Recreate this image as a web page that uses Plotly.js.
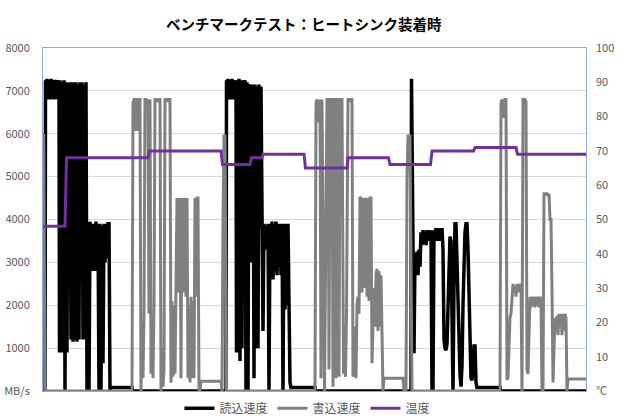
<!DOCTYPE html>
<html>
<head>
<meta charset="utf-8">
<script src="https://cdn.plot.ly/plotly-3.0.1.min.js"></script>
<style>html,body{margin:0;padding:0;background:#fff;}#chart{width:620px;height:420px;}</style>
</head>
<body>
<div id="chart"></div>
<script>
// Series names
const seriesNames = ['読込速度', '書込速度', '温度'];
const chartTitle = 'ベンチマークテスト：ヒートシンク装着時';

// Left axis ticks (MB/s)
const leftTickVals = [0, 1000, 2000, 3000, 4000, 5000, 6000, 7000, 8000];
const leftTickText = ['MB/s', '1000', '2000', '3000', '4000', '5000', '6000', '7000', '8000'];
// Right axis ticks (℃)
const rightTickVals = [0, 10, 20, 30, 40, 50, 60, 70, 80, 90, 100];
const rightTickText = ['℃', '10', '20', '30', '40', '50', '60', '70', '80', '90', '100'];

// Read speed samples [time, MB/s]
const readPts = [
  [0,0],[2,0],[2.5,7250],[3,6850],[4,7280],[5,6800],[6,7250],[7,6800],[8,7280],[9,6820],[10,7250],[11,6800],
  [12,7260],[13,6820],[14,7250],[15,6800],[16,7250],[16.5,900],[17,7250],[18,900],[19,7200],[20,900],[21,7250],
  [22,0],[23,7200],[24,900],[25,7200],[26,6600],[27,7200],[28,1200],[29,7200],[30,1150],[31,7200],[32,1200],
  [33,7200],[34,1150],[35,7150],[36,1200],[37,7200],[38,6600],[39,7200],[40,1200],[41,7150],[42,1200],[43,7200],
  [44,0],[45,3900],[46,0],[47,3950],[48,2900],[49,3900],[50,2800],[51,3900],[52,2800],[53,3950],[54,2850],
  [55,3900],[56,0],[57,3900],[58,0],[59,3850],[60,650],[61,3900],[62,3000],[63,3900],[64,3100],[65,3900],
  [66,3900],[67,0],[67.5,80],[89,80],[89.5,0],
  [183,0],[183.5,7250],[184,6850],[185,7280],[186,6800],[187,7250],[188,6800],[189,7280],[190,6800],[191,7250],
  [192,6850],[193,7250],[193.5,900],[194,7250],[195,1000],[196,7280],[197,700],[198,7250],[199,1000],[200,7250],
  [201,6800],[202,7250],[203,0],[204,7200],[205,0],[206,7150],[207,6900],[208,7150],[209,3000],[210,7150],
  [211,300],[212,7150],[213,1000],[214,7100],[215,1000],[216,7150],[217,3800],[218,7100],[219,3850],[220,1400],
  [221,3900],[222,3300],[223,3850],[224,3300],[225,3900],[226,0],[227,3900],[228,2800],[229,3950],[230,2600],
  [231,3900],[232,2800],[233,3950],[234,2700],[235,3900],[236,2900],[237,3900],[238,2700],[239,3900],[240,0],
  [241,3900],[242,1900],[243,3900],[244,2000],[245,3900],[246,1800],[247,200],[248,80],[272,80],[272.5,0],
  [368,0],[368.5,7280],[370,3200],[371,880],[372,3200],[373,2700],[374,3250],[375,2700],[376,3300],[377,2900],
  [378,3700],[379,3400],[380,3750],[381,3450],[382,3700],[383,3400],[384,3750],[385,3500],[386,3750],[387,3500],
  [388,3750],[389,0],[390,0],[391,3750],[392,3500],[393,3800],[394,3500],[395,3800],[396,3500],[397,3800],
  [398,3550],[399,3800],[400,3300],[401,1200],[402,1000],[403,950],[404,1100],[405,1800],[406,3000],[407,3600],
  [408,3500],[409,1500],[410,0],[411,2500],[412,3900],[413,3900],[414,3000],[415,2000],[416,1000],[417,400],
  [418,100],[419,600],[420,2000],[421,3300],[422,3700],[423,3900],[424,3900],[425,3300],[426,2200],[427,1000],
  [428,300],[429,250],[430,500],[431,1050],[432,1050],[433,200],[434,80],[457,80],[457.5,0],[543,0]
];

// Write speed samples [time, MB/s]
const writePts = [
  [0,4400],[0.7,6000],[2,0],
  [89,0],[90,6700],[91,6800],[92,6800],[93,6100],[94,6100],[95,6800],[96,6800],[97,6800],[98,0],[99,1600],
  [100,300],[101,1800],[102,6800],[103,6800],[104,6750],[105,6800],[106,1800],[107,6800],[108,400],[109,1500],
  [110,300],[111,2000],[112,6800],[113,6800],[114,6750],[115,6800],[116,6800],[117,6800],[118,0],[119,1000],
  [120,100],[121,500],[122,6800],[123,6800],[124,6750],[125,6800],[126,6800],[127,6800],[128,190],[129,2100],
  [130,330],[131,2000],[132,400],[133,2100],[134,4500],[135,4400],[136,2300],[137,4500],[138,300],[139,4500],
  [140,2300],[141,4500],[142,4400],[143,2200],[144,4500],[145,300],[146,2000],[147,200],[148,2200],[149,300],
  [150,2100],[151,300],[152,4500],[153,2200],[154,4500],[155,4500],[156,0],[157,0],[158,230],[178,230],[179,0],
  [180,4000],[181,5950],[182,5950],[183.5,0],
  [272,0],[273,6700],[274,6800],[275,6300],[276,6300],[277,6800],[278,300],[279,6800],[281.5,0],[284,6800],
  [285,6800],[286,500],[287,6800],[288,6800],[289,6800],[290,100],[291,6800],[292,6800],[293,300],[294,6800],
  [295,6800],[296,330],[297,6800],[298,6800],[299,6800],[300.5,400],[301.5,1500],[302.5,330],[303.5,1800],
  [305,6800],[306,6800],[307,6750],[308,6800],[309,6800],[310,330],[311,900],[312,1500],[313,300],[314,2000],
  [315,2200],[316,1800],[317,4500],[318,4500],[319,2300],[320,4500],[321,2400],[322,4500],[323,4450],[324,2200],
  [325,4500],[326,2100],[327,4500],[328,4500],[329,650],[330,2000],[331,2400],[332,1500],[333,2700],[334,2850],
  [335,1400],[336,2800],[337,1500],[338,2700],[339,1400],[340,0],[341,300],[360,300],[361,0],[363,0],
  [364,5000],[365,5950],[367,5950],[369,0],
  [457,0],[458,6700],[459,6800],[460,6400],[461,6400],[462,6800],[463,6800],[464,260],[465,300],[466,1000],
  [467,1720],[468,1800],[469,2300],[470,2500],[471,2300],[472,2450],[473,2200],[474,2500],[475,2300],[476,2500],
  [477,2350],[478,2500],[479,0],[480,6800],[481,6800],[482,6800],[483,6750],[484,500],[485,400],[486,1500],
  [487,2200],[488,1950],[489,2200],[490,2000],[491,2200],[492,1950],[493,2200],[494,2000],[495,2200],[496,1950],
  [497,2200],[498,2100],[499,0],[500,0],[501,4600],[502,4600],[503,4600],[504,4600],[505,4550],[506,4600],
  [507,4000],[508,4000],[509,2350],[510,200],[511,1000],[512,1700],[513,1500],[514,1750],[515,1300],[516,1800],
  [517,1600],[518,1800],[519,1300],[520,1800],[521,1400],[522,1800],[523,1700],[524,0],[525,280],[543,280]
];

// Temperature samples [time, ℃]
const tempPts = [
  [0,48],[22,48],[23.5,68],[105,68],[106.5,70],[178,70],[179.5,66],[207,66],[208.5,68],[219,68],[220,69],
  [261,69],[262.5,65],[304,65],[305,68],[345.5,68],[347,66],[387.5,66],[389,70],[430.5,70],[432,71],
  [473,71],[474.5,69],[543,69]
];

const xs = a => a.map(p => p[0]);
const ys = a => a.map(p => p[1]);

const tickFont = {family: 'Noto Sans CJK JP, Noto Sans, sans-serif', size: 11, color: '#595959'};
const borderColor = '#8eaadb';

const traces = [
  {x: xs(readPts), y: ys(readPts), name: seriesNames[0], type: 'scatter', mode: 'lines',
   line: {color: '#000000', width: 3.5}, yaxis: 'y'},
  {x: xs(writePts), y: ys(writePts), name: seriesNames[1], type: 'scatter', mode: 'lines',
   line: {color: '#808080', width: 3}, yaxis: 'y'},
  {x: xs(tempPts), y: ys(tempPts), name: seriesNames[2], type: 'scatter', mode: 'lines',
   line: {color: '#7030a0', width: 3}, yaxis: 'y2'}
];

const layout = {
  width: 620, height: 420,
  margin: {l: 43, r: 34, t: 48, b: 29, autoexpand: false},
  paper_bgcolor: '#ffffff', plot_bgcolor: '#ffffff',
  title: {text: chartTitle, x: 0.49, xref: 'container', xanchor: 'center', y: 0.94, yref: 'container', yanchor: 'middle',
          font: {family: 'Noto Sans CJK JP, sans-serif', size: 14.5, color: '#000000', weight: 'bold'}},
  showlegend: true,
  legend: {orientation: 'h', x: 0.487, xanchor: 'center', y: -0.05, yanchor: 'middle',
           font: {family: 'Noto Sans CJK JP, sans-serif', size: 12, color: '#595959'}, itemwidth: 30,
           bgcolor: 'rgba(0,0,0,0)'},
  xaxis: {range: [0, 543], showgrid: false, zeroline: false, showticklabels: false, ticks: '',
          showline: true, mirror: true, linecolor: borderColor, linewidth: 1},
  yaxis: {range: [0, 8000], tickvals: leftTickVals, ticktext: leftTickText, tickfont: tickFont,
          showgrid: true, gridcolor: '#d9d9d9', gridwidth: 1, zeroline: false, ticks: '',
          showline: true, mirror: true, linecolor: borderColor, linewidth: 1, ticklabelstandoff: 10},
  yaxis2: {range: [0, 100], overlaying: 'y', side: 'right', tickvals: rightTickVals, ticktext: rightTickText,
           tickfont: tickFont, showgrid: false, zeroline: false, ticks: '', showline: false, ticklabelstandoff: 9}
};

Plotly.newPlot('chart', traces, layout, {staticPlot: true, displayModeBar: false});
</script>
</body>
</html>
